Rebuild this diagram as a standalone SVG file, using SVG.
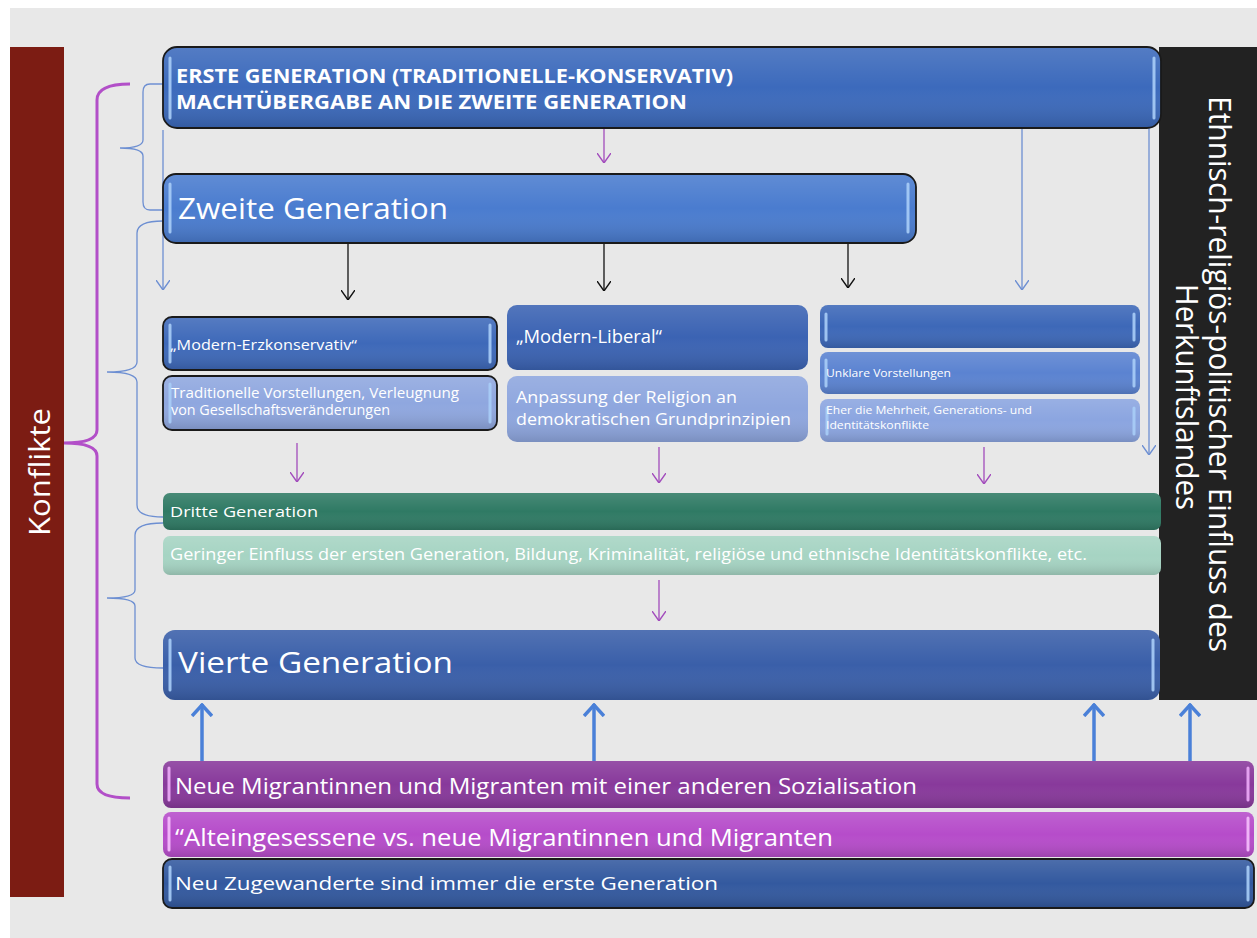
<svg xmlns="http://www.w3.org/2000/svg" width="1257" height="938" viewBox="0 0 1257 938">
<defs>
<style>
.t{font-family:"Open Sans","Liberation Sans",sans-serif;fill:#ffffff}
.b{font-weight:bold}
.hl{stroke:#a9cdf7;stroke-width:3;stroke-linecap:round;fill:none;opacity:0.9}
.edge{stroke:#1a1a1a;stroke-width:1.8}
.bl{stroke:#6d8fd2;stroke-width:1.3;fill:none}
.pu{stroke:#a24cbc;stroke-width:1.3;fill:none}
.brace{stroke:#b24fc8;stroke-width:3;fill:none}
.bk{stroke:#111;stroke-width:1.3;fill:none}
.tb{stroke:#4a80d8;stroke-width:3.5;fill:none}
</style>
<linearGradient id="gloss" x1="0" y1="0" x2="0" y2="1">
<stop offset="0" stop-color="#fff" stop-opacity="0.12"/>
<stop offset="0.5" stop-color="#fff" stop-opacity="0"/>
<stop offset="1" stop-color="#000" stop-opacity="0.14"/>
</linearGradient>
<marker id="mb" viewBox="0 0 10 14" refX="10" refY="7" markerWidth="10" markerHeight="14" markerUnits="userSpaceOnUse" orient="auto"><path d="M0,0 L10,7 L0,14" fill="none" stroke="#111" stroke-width="1.4"/></marker>
<marker id="mp" viewBox="0 0 10 14" refX="10" refY="7" markerWidth="10" markerHeight="14" markerUnits="userSpaceOnUse" orient="auto"><path d="M0,0 L10,7 L0,14" fill="none" stroke="#a24cbc" stroke-width="1.4"/></marker>
<marker id="ml" viewBox="0 0 10 14" refX="10" refY="7" markerWidth="10" markerHeight="14" markerUnits="userSpaceOnUse" orient="auto"><path d="M0,0 L10,7 L0,14" fill="none" stroke="#6d8fd2" stroke-width="1.4"/></marker>
<marker id="mt" viewBox="0 0 14 22" refX="13" refY="11" markerWidth="14" markerHeight="22" markerUnits="userSpaceOnUse" orient="auto"><path d="M1,1 L12,11 L1,21" fill="none" stroke="#4a80d8" stroke-width="3.5"/></marker>
</defs>
<rect x="0" y="0" width="1257" height="938" fill="#ffffff"/>
<rect x="10" y="8" width="1247" height="930" fill="#e8e8e8"/>

<g id="konflikte">
<rect x="10" y="47" width="54" height="850" fill="#7c1c13"/>
<text class="t" transform="translate(50,536) rotate(-90)" font-size="30" textLength="128" lengthAdjust="spacingAndGlyphs">Konflikte</text>
</g>

<g id="einfluss">
<rect x="1159" y="47" width="98" height="653" fill="#222222"/>
<text class="t" transform="translate(1209,96) rotate(90)" font-size="31" textLength="556" lengthAdjust="spacingAndGlyphs">Ethnisch-religiös-politischer Einfluss des</text>
<text class="t" transform="translate(1176,284) rotate(90)" font-size="31" textLength="226" lengthAdjust="spacingAndGlyphs">Herkunftslandes</text>
</g>

<g id="connectors">
<path class="brace" d="M130,84 Q97,84 97,100 L97,430 Q97,443 64,443 Q97,443 97,456 L97,784 Q97,798 130,798"/>
<path class="bl" d="M163,84 L150,84 Q143,84 143,92 L143,140 Q143,148 120,148 Q143,148 143,156 L143,202 Q143,210 150,210 L163,210"/>
<path class="bl" d="M163,221 Q137,221 137,233 L137,362 Q137,372 107,372 Q137,372 137,382 L137,505 Q137,517 163,517"/>
<path class="bl" d="M163,523 Q135,523 135,535 L135,590 Q135,598 107,598 Q135,598 135,606 L135,658 Q135,668 163,668"/>
<line class="bl" x1="163" y1="130" x2="163" y2="290" marker-end="url(#ml)"/>
<line class="bl" x1="1022" y1="128" x2="1022" y2="290" marker-end="url(#ml)"/>
<line class="bl" x1="1149" y1="128" x2="1149" y2="455" marker-end="url(#ml)"/>
<line class="pu" x1="604" y1="129" x2="604" y2="163" marker-end="url(#mp)"/>
<line class="bk" x1="348" y1="243" x2="348" y2="300" marker-end="url(#mb)"/>
<line class="bk" x1="604" y1="243" x2="604" y2="291" marker-end="url(#mb)"/>
<line class="bk" x1="848" y1="243" x2="848" y2="288" marker-end="url(#mb)"/>
<line class="pu" x1="297" y1="443" x2="297" y2="482" marker-end="url(#mp)"/>
<line class="pu" x1="659" y1="447" x2="659" y2="483" marker-end="url(#mp)"/>
<line class="pu" x1="984" y1="447" x2="984" y2="484" marker-end="url(#mp)"/>
<line class="pu" x1="659" y1="580" x2="659" y2="621" marker-end="url(#mp)"/>
<line class="tb" x1="202" y1="761" x2="202" y2="704" marker-end="url(#mt)"/>
<line class="tb" x1="594" y1="761" x2="594" y2="704" marker-end="url(#mt)"/>
<line class="tb" x1="1094" y1="761" x2="1094" y2="704" marker-end="url(#mt)"/>
<line class="tb" x1="1190" y1="761" x2="1190" y2="704" marker-end="url(#mt)"/>
</g>

<g id="erste">
<rect x="163" y="47" width="998" height="81" rx="14" fill="#3c6abc" class="edge"/>
<rect x="164" y="48" width="996" height="79" rx="13" fill="url(#gloss)"/>
<line class="hl" x1="170" y1="58" x2="170" y2="118"/><line class="hl" x1="1154" y1="58" x2="1154" y2="118"/>
<text class="t b" x="176" y="83" font-size="20" textLength="557" lengthAdjust="spacingAndGlyphs">ERSTE GENERATION (TRADITIONELLE-KONSERVATIV)</text>
<text class="t b" x="176" y="109" font-size="20" textLength="511" lengthAdjust="spacingAndGlyphs">MACHTÜBERGABE AN DIE ZWEITE GENERATION</text>
</g>

<g id="zweite">
<rect x="163" y="174" width="753" height="69" rx="13" fill="#4a7ccf" class="edge"/>
<rect x="164" y="175" width="751" height="67" rx="12" fill="url(#gloss)"/>
<line class="hl" x1="170" y1="184" x2="170" y2="232"/><line class="hl" x1="908" y1="184" x2="908" y2="232"/>
<text class="t" x="178" y="219" font-size="30" textLength="270" lengthAdjust="spacingAndGlyphs">Zweite Generation</text>
</g>

<g id="modern-erzkonservativ">
<rect x="163" y="317" width="334" height="53" rx="9" fill="#3e69b9" class="edge"/>
<rect x="164" y="318" width="332" height="51" rx="8" fill="url(#gloss)"/>
<line class="hl" x1="170" y1="325" x2="170" y2="362"/><line class="hl" x1="490" y1="325" x2="490" y2="362"/>
<text class="t" x="170" y="350" font-size="14" textLength="187" lengthAdjust="spacingAndGlyphs">„Modern-Erzkonservativ“</text>
</g>

<g id="traditionelle">
<rect x="163" y="376" width="334" height="54" rx="9" fill="#8fa7df" class="edge"/>
<rect x="164" y="377" width="332" height="52" rx="8" fill="url(#gloss)"/>
<line class="hl" x1="170" y1="384" x2="170" y2="422"/><line class="hl" x1="490" y1="384" x2="490" y2="422"/>
<text class="t" x="171" y="398" font-size="14" textLength="288" lengthAdjust="spacingAndGlyphs">Traditionelle Vorstellungen, Verleugnung</text>
<text class="t" x="171" y="415" font-size="14" textLength="219" lengthAdjust="spacingAndGlyphs">von Gesellschaftsveränderungen</text>
</g>

<g id="modern-liberal">
<rect x="507" y="305" width="301" height="65" rx="10" fill="#3b63b3"/>
<rect x="507" y="305" width="301" height="65" rx="10" fill="url(#gloss)"/>
<text class="t" x="516" y="343" font-size="18" textLength="146" lengthAdjust="spacingAndGlyphs">„Modern-Liberal“</text>
</g>

<g id="anpassung">
<rect x="507" y="376" width="301" height="66" rx="10" fill="#8ea6de"/>
<rect x="507" y="376" width="301" height="66" rx="10" fill="url(#gloss)"/>
<text class="t" x="516" y="403" font-size="17" textLength="221" lengthAdjust="spacingAndGlyphs">Anpassung der Religion an</text>
<text class="t" x="516" y="425" font-size="17" textLength="275" lengthAdjust="spacingAndGlyphs">demokratischen Grundprinzipien</text>
</g>

<g id="rechts-leer">
<rect x="820" y="305" width="320" height="43" rx="8" fill="#3d68b8"/>
<rect x="820" y="305" width="320" height="43" rx="8" fill="url(#gloss)"/>
<line class="hl" x1="826" y1="314" x2="826" y2="340"/><line class="hl" x1="1134" y1="314" x2="1134" y2="340"/>
</g>

<g id="unklare">
<rect x="820" y="352" width="320" height="42" rx="8" fill="#5b83d1"/>
<rect x="820" y="352" width="320" height="42" rx="8" fill="url(#gloss)"/>
<line class="hl" x1="826" y1="360" x2="826" y2="386"/><line class="hl" x1="1134" y1="360" x2="1134" y2="386"/>
<text class="t" x="826" y="377" font-size="11" textLength="125" lengthAdjust="spacingAndGlyphs">Unklare Vorstellungen</text>
</g>

<g id="mehrheit">
<rect x="820" y="399" width="320" height="43" rx="8" fill="#8ba5e0"/>
<rect x="820" y="399" width="320" height="43" rx="8" fill="url(#gloss)"/>
<line class="hl" x1="827" y1="408" x2="827" y2="434"/><line class="hl" x1="1134" y1="408" x2="1134" y2="434"/>
<text class="t" x="826" y="414" font-size="10" textLength="206" lengthAdjust="spacingAndGlyphs">Eher die Mehrheit, Generations- und</text>
<text class="t" x="826" y="429" font-size="10" textLength="103" lengthAdjust="spacingAndGlyphs">Identitätskonflikte</text>
</g>

<g id="dritte">
<rect x="163" y="493" width="998" height="37" rx="7" fill="#2f7a64"/>
<rect x="163" y="493" width="998" height="37" rx="7" fill="url(#gloss)"/>
<text class="t" x="170" y="517" font-size="15" textLength="148" lengthAdjust="spacingAndGlyphs">Dritte Generation</text>
</g>

<g id="geringer">
<rect x="163" y="536" width="998" height="39" rx="7" fill="#a6d4c3"/>
<rect x="163" y="536" width="998" height="39" rx="7" fill="url(#gloss)"/>
<text class="t" x="170" y="560" font-size="16" fill="#f2faf6" textLength="917" lengthAdjust="spacingAndGlyphs">Geringer Einfluss der ersten Generation, Bildung, Kriminalität, religiöse und ethnische Identitätskonflikte, etc.</text>
</g>

<g id="vierte">
<rect x="163" y="630" width="997" height="70" rx="12" fill="#3a5fa9"/>
<rect x="163" y="630" width="997" height="70" rx="12" fill="url(#gloss)"/>
<line class="hl" x1="170" y1="640" x2="170" y2="690"/><line class="hl" x1="1153" y1="640" x2="1153" y2="690"/>
<text class="t" x="178" y="673" font-size="30" textLength="275" lengthAdjust="spacingAndGlyphs">Vierte Generation</text>
</g>

<g id="neue-migranten">
<rect x="163" y="761" width="1091" height="47" rx="8" fill="#88399b"/>
<rect x="163" y="761" width="1091" height="47" rx="8" fill="url(#gloss)"/>
<line x1="169" y1="768" x2="169" y2="800" stroke="#e4a1f0" stroke-width="3" stroke-linecap="round"/><line x1="1248" y1="768" x2="1248" y2="800" stroke="#e4a1f0" stroke-width="3" stroke-linecap="round"/>
<text class="t" x="175" y="794" font-size="21" textLength="742" lengthAdjust="spacingAndGlyphs">Neue Migrantinnen und Migranten mit einer anderen Sozialisation</text>
</g>

<g id="alteingesessene">
<rect x="163" y="812" width="1091" height="45" rx="8" fill="#b64cca"/>
<rect x="163" y="812" width="1091" height="45" rx="8" fill="url(#gloss)"/>
<line x1="169" y1="818" x2="169" y2="850" stroke="#f0b4f8" stroke-width="3" stroke-linecap="round"/><line x1="1248" y1="818" x2="1248" y2="850" stroke="#f0b4f8" stroke-width="3" stroke-linecap="round"/>
<text class="t" x="175" y="846" font-size="23" textLength="658" lengthAdjust="spacingAndGlyphs">“Alteingesessene vs. neue Migrantinnen und Migranten</text>
</g>

<g id="neu-zugewanderte">
<rect x="163" y="859" width="1091" height="49" rx="9" fill="#33599f" class="edge"/>
<rect x="164" y="860" width="1089" height="47" rx="8" fill="url(#gloss)"/>
<line class="hl" x1="170" y1="867" x2="170" y2="900"/><line class="hl" x1="1248" y1="867" x2="1248" y2="900"/>
<text class="t" x="175" y="890" font-size="18" textLength="543" lengthAdjust="spacingAndGlyphs">Neu Zugewanderte sind immer die erste Generation</text>
</g>
</svg>
